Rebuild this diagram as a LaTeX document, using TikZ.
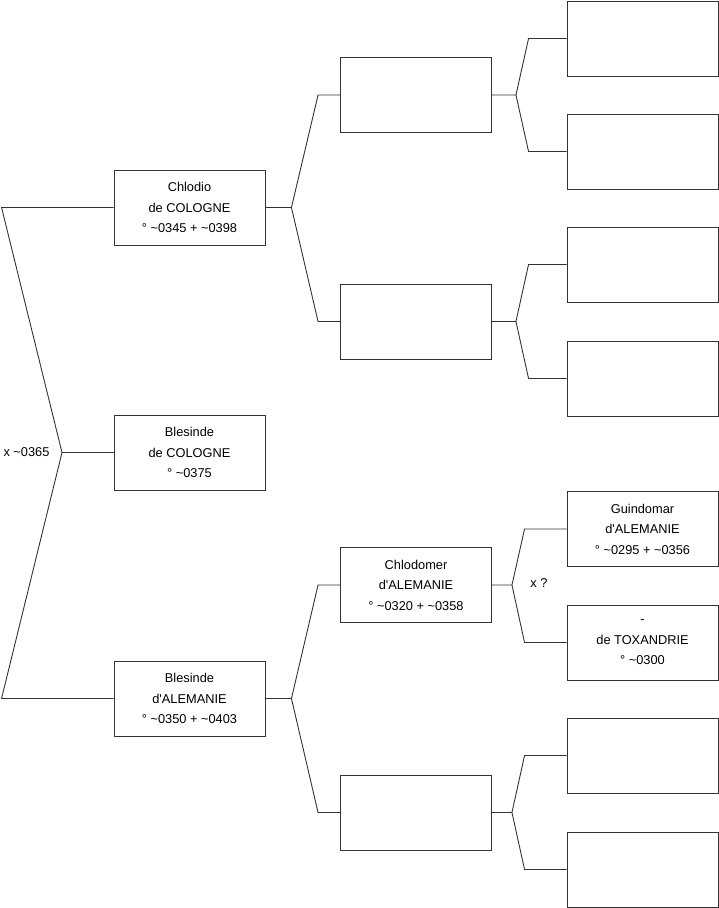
\documentclass[tikz,border=0pt]{standalone}
\usepackage{fontspec}
\setmainfont{Liberation Sans}
\usetikzlibrary{positioning}

\begin{document}
\begin{tikzpicture}[
        x=1pt, y=-1pt,
        person/.style={rectangle, draw=black!80, line width=0.9pt, minimum width=151pt, minimum height=75pt, inner sep=0pt, align=center, font=\fontsize{12.8}{20.5}\selectfont},
        link/.style={draw=black!80, line width=0.9pt},
        union/.style={font=\fontsize{12.8}{14}\selectfont, inner sep=0pt},
      ]
      \useasboundingbox (0,0) rectangle (719,908);
      % generation 1
      \node [person] (chlodio) at (189.5,207.5) {Chlodio\\de COLOGNE\\° \textasciitilde0345 + \textasciitilde0398};
      \node [person] (blesindeC) at (189.5,452.5) {Blesinde\\de COLOGNE\\° \textasciitilde0375};
      \node [person] (blesindeA) at (189.5,698.5) {Blesinde\\d\textquotesingle ALEMANIE\\° \textasciitilde0350 + \textasciitilde0403};
      % generation 2
      \node [person] (chlodioF) at (416,95) {};
      \node [person] (chlodioM) at (416,321.5) {};
      \node [person] (chlodomer) at (416,585) {Chlodomer\\d\textquotesingle ALEMANIE\\° \textasciitilde0320 + \textasciitilde0358};
      \node [person] (blesindeM) at (416,812.5) {};
      % generation 3
      \node [person] (chlodioFF) at (642.5,38.5) {};
      \node [person] (chlodioFM) at (642.5,151.5) {};
      \node [person] (chlodioMF) at (642.5,264.5) {};
      \node [person] (chlodioMM) at (642.5,378.5) {};
      \node [person] (guindomar) at (642.5,529) {Guindomar\\d\textquotesingle ALEMANIE\\° \textasciitilde0295 + \textasciitilde0356};
      \node [person] (toxandrie) at (642.5,642.5) {-\\de TOXANDRIE\\° \textasciitilde0300};
      \node [person] (blesindeMF) at (642.5,755.5) {};
      \node [person] (blesindeMM) at (642.5,869.5) {};
      % unions
      \coordinate (root) at (62,452.5);
      \node [union] (marriage) at (26.5,452) {x \textasciitilde0365};
      \node [union] (marriageC) at (539,583) {x ?};
      % brackets
      \draw [link] (chlodio.west) -- ([xshift=-112pt]chlodio.west) -- (root) -- ([xshift=-112pt]blesindeA.west) -- (blesindeA.west);
      \draw [link] (root) -- (blesindeC.west);
      \draw [link] (chlodio.east) -- ++(26,0) coordinate (k1) -- ([xshift=-22pt]chlodioF.west) -- (chlodioF.west);
      \draw [link] (k1) -- ([xshift=-22pt]chlodioM.west) -- (chlodioM.west);
      \draw [link] (blesindeA.east) -- ++(26,0) coordinate (k2) -- ([xshift=-22pt]chlodomer.west) -- (chlodomer.west);
      \draw [link] (k2) -- ([xshift=-22pt]blesindeM.west) -- (blesindeM.west);
      \draw [link] (chlodioF.east) -- ++(24,0) coordinate (k3) -- ([xshift=-38pt]chlodioFF.west) -- (chlodioFF.west);
      \draw [link] (k3) -- ([xshift=-38pt]chlodioFM.west) -- (chlodioFM.west);
      \draw [link] (chlodioM.east) -- ++(24,0) coordinate (k4) -- ([xshift=-38pt]chlodioMF.west) -- (chlodioMF.west);
      \draw [link] (k4) -- ([xshift=-38pt]chlodioMM.west) -- (chlodioMM.west);
      \draw [link] (chlodomer.east) -- ++(20,0) coordinate (k5) -- ([xshift=-42pt]guindomar.west) -- (guindomar.west);
      \draw [link] (k5) -- ([xshift=-42pt]toxandrie.west) -- (toxandrie.west);
      \draw [link] (blesindeM.east) -- ++(20,0) coordinate (k6) -- ([xshift=-42pt]blesindeMF.west) -- (blesindeMF.west);
      \draw [link] (k6) -- ([xshift=-42pt]blesindeMM.west) -- (blesindeMM.west);
    \end{tikzpicture}
\end{document}
